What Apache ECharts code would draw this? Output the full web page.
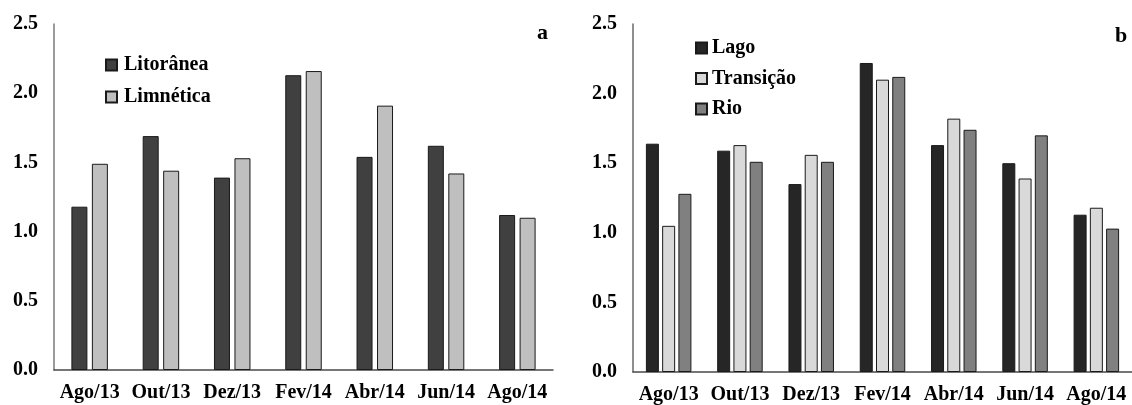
<!DOCTYPE html>
<html>
<head>
<meta charset="utf-8">
<script src="https://cdn.jsdelivr.net/npm/echarts@6/dist/echarts.min.js"></script>
<style>
  html, body { margin: 0; padding: 0; background: #fff; }
  #chart { width: 1132px; height: 405px; }
</style>
</head>
<body>
<div id="chart"></div>
<script>
// Sampling campaigns (month/year)
const categories = ['Ago/13', 'Out/13', 'Dez/13', 'Fev/14', 'Abr/14', 'Jun/14', 'Ago/14'];

// Panel a: zones of the water body
const litoranea = [1.18, 1.69, 1.39, 2.13, 1.54, 1.62, 1.12];
const limnetica = [1.49, 1.44, 1.53, 2.16, 1.91, 1.42, 1.10];

// Panel b: lake, transition and river stretches
const lago      = [1.64, 1.59, 1.35, 2.22, 1.63, 1.50, 1.13];
const transicao = [1.05, 1.63, 1.56, 2.10, 1.82, 1.39, 1.18];
const rio       = [1.28, 1.51, 1.51, 2.12, 1.74, 1.70, 1.03];

const yTicks = { min: 0, max: 2.5, interval: 0.5 };

const FONT = '"Liberation Serif", "Times New Roman", serif';
const textBold = { fontFamily: FONT, fontWeight: 'bold', fontSize: 20, color: '#000' };

function yAxis(gridIndex, lineColor) {
  return {
    type: 'value', gridIndex,
    min: yTicks.min, max: yTicks.max, interval: yTicks.interval,
    axisLine: { show: true, lineStyle: { color: lineColor, width: 1.5 } },
    axisTick: { show: false },
    splitLine: { show: false },
    axisLabel: Object.assign({ margin: 16, formatter: v => v.toFixed(1) }, textBold)
  };
}

function xAxis(gridIndex) {
  return {
    type: 'category', gridIndex, data: categories,
    axisLine: { lineStyle: { color: '#4a4a4a', width: 1.5 } },
    axisTick: { show: false },
    axisLabel: Object.assign({ margin: 13, interval: 0 }, textBold)
  };
}

function bar(name, data, color, axisIdx, width, gap) {
  return {
    name, type: 'bar', data,
    xAxisIndex: axisIdx, yAxisIndex: axisIdx,
    barWidth: width, barGap: gap,
    itemStyle: { color, borderColor: '#1a1a1a', borderWidth: 1 },
    emphasis: { disabled: true }
  };
}

const chart = echarts.init(document.getElementById('chart'), null, { renderer: 'canvas' });
chart.setOption({
  animation: false,
  backgroundColor: '#fff',
  grid: [
    { left: 54, top: 24, width: 499, height: 346 },
    { left: 633, top: 24, width: 499, height: 348 }
  ],
  title: [
    { text: 'a', left: 537, top: 22, padding: 0, textStyle: Object.assign({}, textBold, { fontSize: 22 }) },
    { text: 'b', left: 1115, top: 25, padding: 0, textStyle: Object.assign({}, textBold, { fontSize: 22 }) }
  ],
  legend: [
    {
      data: ['Litorânea', 'Limnética'],
      orient: 'vertical', left: 105, top: 54, padding: 0,
      icon: 'rect', itemWidth: 11, itemHeight: 11, itemGap: 10,
      textStyle: Object.assign({ padding: [0, 0, 0, 2], lineHeight: 22 }, textBold)
    },
    {
      data: ['Lago', 'Transição', 'Rio'],
      orient: 'vertical', left: 695, top: 37, padding: 0,
      icon: 'rect', itemWidth: 11, itemHeight: 11, itemGap: 8.5,
      textStyle: Object.assign({ padding: [0, 0, 0, 0], lineHeight: 22 }, textBold)
    }
  ],
  xAxis: [xAxis(0), xAxis(1)],
  yAxis: [yAxis(0, '#7a7a7a'), yAxis(1, '#6a6a6a')],
  series: [
    bar('Litorânea', litoranea, '#404040', 0, 16, '28%'),
    bar('Limnética', limnetica, '#bfbfbf', 0, 16, '28%'),
    bar('Lago', lago, '#262626', 1, 13, '25%'),
    bar('Transição', transicao, '#d9d9d9', 1, 13, '25%'),
    bar('Rio', rio, '#808080', 1, 13, '25%')
  ]
});
</script>
</body>
</html>
